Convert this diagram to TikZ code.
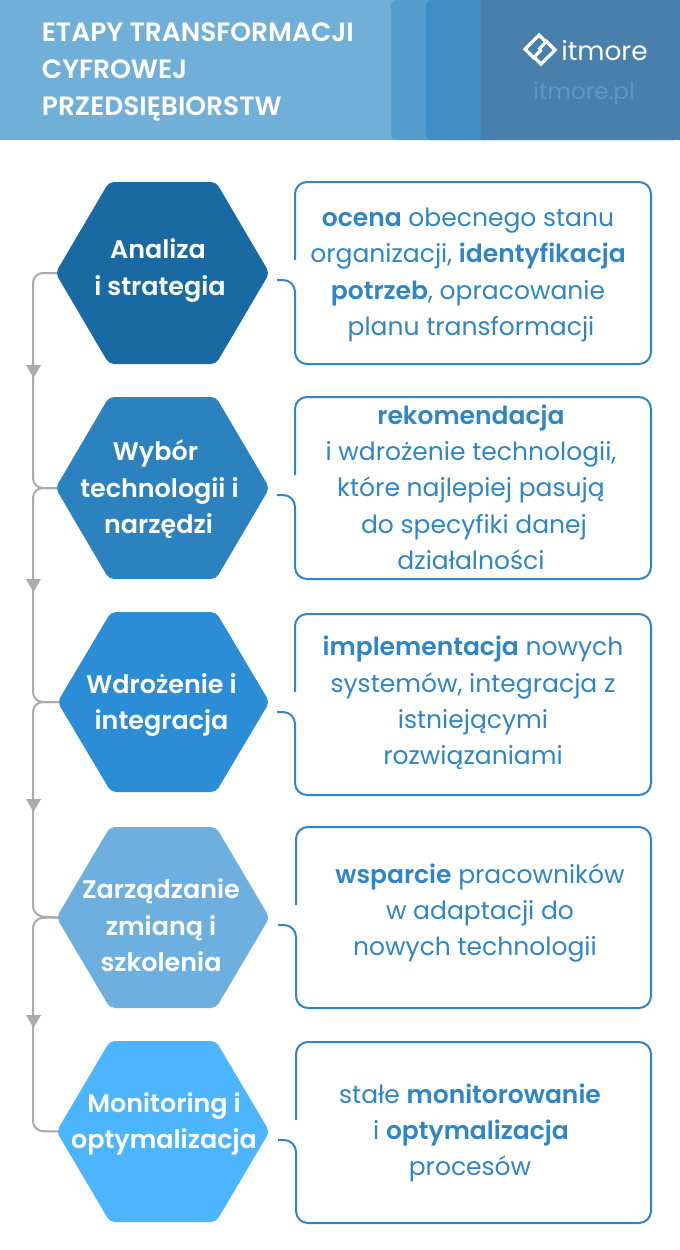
\documentclass[tikz,border=0pt]{standalone}
\usepackage{fontspec}
\setmainfont[BoldFont={Poppins SemiBold}]{Poppins}
\usetikzlibrary{arrows.meta}
\definecolor{hdr}{HTML}{70AFD8}
\definecolor{hdrb}{HTML}{559DCF}
\definecolor{hdrc}{HTML}{3F8DC4}
\definecolor{hdrd}{HTML}{4880AB}
\definecolor{urlc}{HTML}{5C98C6}
\definecolor{hexa}{HTML}{196AA3}
\definecolor{hexb}{HTML}{2B82BF}
\definecolor{hexc}{HTML}{2B8DD6}
\definecolor{hexd}{HTML}{6DB0E0}
\definecolor{hexe}{HTML}{4DB5FF}
\definecolor{txtb}{HTML}{2F85C5}
\definecolor{grayl}{HTML}{ABABAB}
\tikzset{
  x=0.5pt,y=-0.5pt,
  hexshape/.style={rounded corners=2.5pt},
  hextext/.style={text=white,font=\bfseries\fontsize{12.7}{18.25}\selectfont,align=center,inner sep=0pt},
  boxtext/.style={text=txtb,font=\fontsize{12.5}{18.15}\selectfont,align=center,inner sep=0pt},
  boxline/.style={draw=txtb,line width=1pt,rounded corners=6pt},
  flow/.style={draw=grayl,line width=1pt,rounded corners=5pt},
  tipmark/.style={fill=grayl,draw=none},
}
\newcommand{\hexagonfill}[5]{% name, left, top, bottom, colour
  \path[hexshape,fill=#5] (#2-1.5,{(#3+#4)/2}) -- (#2+52,#3) -- (216,#3) -- (269.5,{(#3+#4)/2}) -- (216,#4) -- (#2+52,#4) -- cycle;
  \coordinate (#1) at (#2,{(#3+#4)/2});
}
\newcommand{\calloutbox}[4]{% name, left, top, bottom
  \draw[boxline] (#2,#3+78) -- (#2,#3) -- (651,#3) -- (651,#4) -- (#2,#4) -- (#2,#3+98) -- (#2-18,#3+98);
  \coordinate (#1) at (#2,#3);
}
\newcommand{\tipat}[1]{\fill[tipmark] (26,#1) -- (41,#1) -- (33.5,#1+13) -- cycle;}
\begin{document}
\begin{tikzpicture}
\useasboundingbox (0,0) rectangle (680,1250);
\fill[white] (0,0) rectangle (680,1250);
% header
\fill[hdr] (0,0) rectangle (680,140);
\fill[hdrb,rounded corners=3pt] (391,0) -- (391,140) -- (680,140) -- (680,0) -- cycle;
\fill[hdrc,rounded corners=3pt] (426,0) -- (426,140) -- (680,140) -- (680,0) -- cycle;
\fill[hdrd] (481,0) rectangle (680,140);
\node[anchor=west,text=white,font=\bfseries\fontsize{13.25}{18.5}\selectfont,align=left,inner sep=0pt] (title) at (41.5,72) {ETAPY TRANSFORMACJI\\CYFROWEJ\\PRZEDSIĘBIORSTW};
% logo
\draw[white,line width=1.6pt,line join=miter] (535,59) -- (525,49) -- (539,35) -- (546,42) -- (538.5,49.5);
\draw[white,line width=1.6pt,line join=miter] (545,40) -- (555,50) -- (541,64) -- (534,57) -- (541.5,49.5);
\node[text=white,font=\fontsize{13.2}{16}\selectfont,inner sep=0pt] (logo) at (604.5,51) {itmore};
\node[text=urlc,font=\fontsize{11.5}{14}\selectfont,inner sep=0pt] (url) at (584,94) {itmore.pl};
% hexagons
\hexagonfill{ha}{57}{182}{364}{hexa}
\hexagonfill{hb}{57}{397}{579}{hexb}
\hexagonfill{hc}{59}{612}{792}{hexc}
\hexagonfill{hd}{58}{827}{1008}{hexd}
\hexagonfill{he}{58}{1041}{1222}{hexe}
% flow
\draw[flow] (ha) -- (33,273) -- (33,488) -- (hb);
\draw[flow] (hb) -- (33,488) -- (33,702) -- (hc);
\draw[flow] (hc) -- (33,702) -- (33,916) -- (hd);
\draw[flow] (hd) -- (33,918) -- (33,1131) -- (he);
\tipat{365}\tipat{579}\tipat{799}\tipat{1015}
% hexagon text
\node[hextext] (ta) at (160,270.5) {\hspace*{-2pt}Analiza\\i strategia};
\node[hextext] (tb) at (159.5,489.5) {\hspace*{-4pt}Wybór\\technologii i\\\hspace*{-1pt}narzędzi};
\node[hextext] (tc) at (161.5,705) {Wdrożenie i\\integracja};
\node[hextext] (td) at (161,925.5) {Zarządzanie\\zmianą i\\szkolenia};
\node[hextext] (te) at (164,1124) {Monitoring i\\optymalizacja};
% boxes
\calloutbox{ba}{295}{182}{364}
\calloutbox{bb}{295}{397}{579}
\calloutbox{bc}{295}{614}{795}
\calloutbox{bd}{296}{827}{1008}
\calloutbox{be}{296}{1042}{1223}
\node[boxtext] (xa) at (468,275) {\textbf{ocena} obecnego stanu\\organizacji, \textbf{identyfikacja}\\\textbf{potrzeb}, opracowanie\\\hspace*{3pt}planu transformacji};
\node[boxtext] (xb) at (471,487) {\textbf{rekomendacja}\\i wdrożenie technologii,\\które najlepiej pasują\\\hspace*{3pt}do specyfiki danej\\działalności};
\node[boxtext] (xc) at (473,703) {\textbf{implementacja} nowych\\systemów, integracja z\\istniejącymi\\rozwiązaniami};
\node[boxtext] (xd) at (480,913) {\textbf{wsparcie} pracowników\\w adaptacji do\\\hspace*{-5pt}nowych technologii};
\node[boxtext] (xe) at (470,1133) {stałe \textbf{monitorowanie}\\\hspace*{1pt}i \textbf{optymalizacja}\\procesów};
\end{tikzpicture}
\end{document}
